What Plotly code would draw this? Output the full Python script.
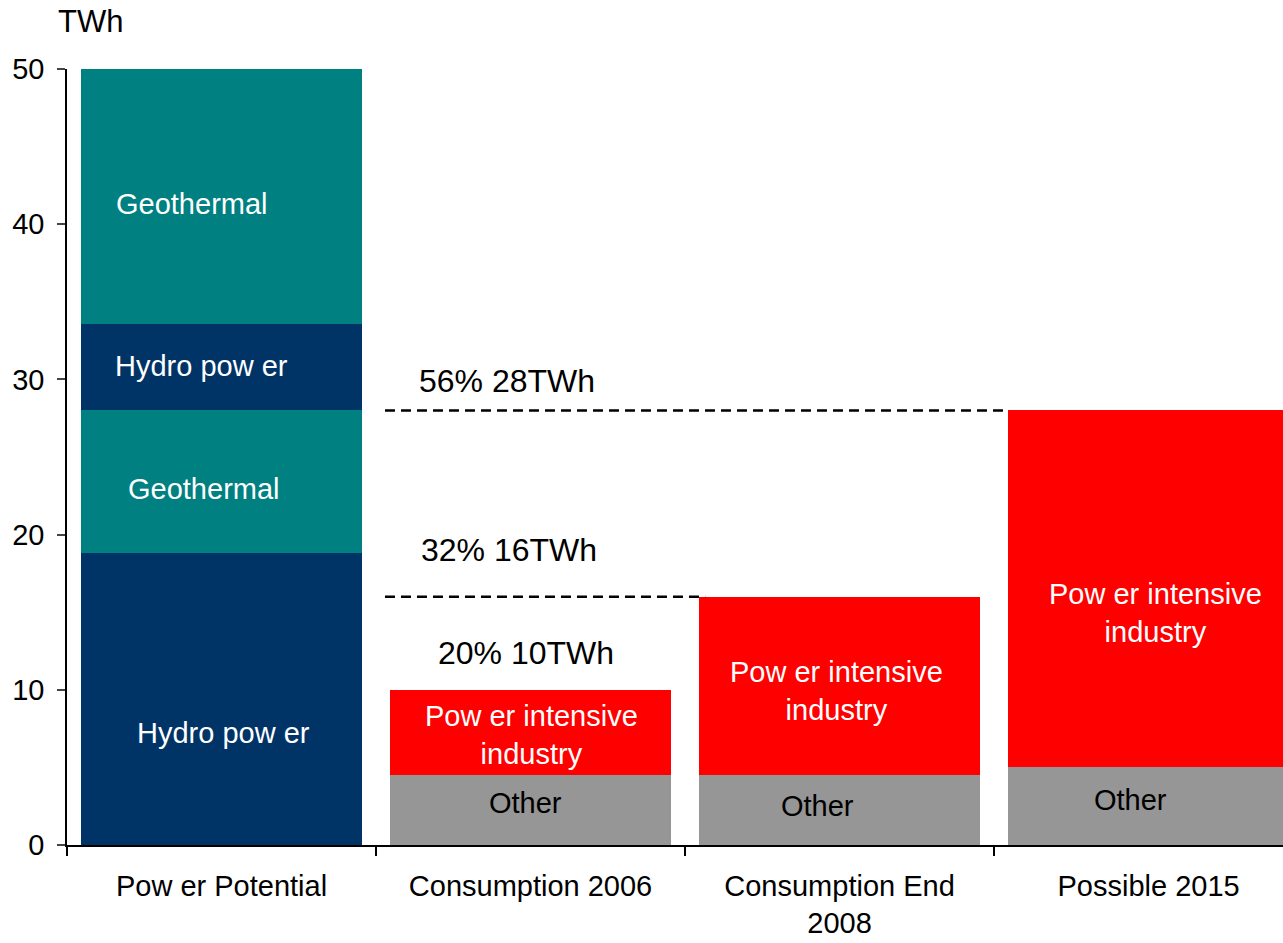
import plotly.graph_objects as go

# Categories and stacked segment values (TWh)
categories = ["Power Potential", "Consumption 2006", "Consumption End 2008", "Possible 2015"]
tick_labels = ["Pow er Potential", "Consumption 2006", "Consumption End<br>2008", "Possible 2015"]

hydro_lower = [18.8, None, None, None]
geothermal_lower = [9.2, None, None, None]
hydro_upper = [5.6, None, None, None]
geothermal_upper = [16.4, None, None, None]
other = [None, 4.5, 4.5, 5.0]
power_intensive = [None, 5.5, 11.5, 23.0]

# Consumption levels marked with dashed reference lines
level_values = [10, 16, 28]
level_shares = [20, 32, 56]

TEAL = "#008080"
NAVY = "#003366"
RED = "#FF0000"
GREY = "#969696"
FONT = "Liberation Sans, Arial, sans-serif"

fig = go.Figure()
series = [
    ("Hydro power", hydro_lower, NAVY),
    ("Geothermal", geothermal_lower, TEAL),
    ("Hydro power ", hydro_upper, NAVY),
    ("Geothermal ", geothermal_upper, TEAL),
    ("Other", other, GREY),
    ("Power intensive industry", power_intensive, RED),
]
for name, vals, color in series:
    fig.add_trace(go.Bar(
        x=categories, y=vals, name=name,
        marker=dict(color=color, line=dict(width=0)),
        hoverinfo="name+y",
    ))

# Segment labels: (category index offset, y, text, colour)
seg_labels = [
    (-0.095, 41.3, "Geothermal", "white"),
    (-0.066, 30.86, "Hydro pow er", "white"),
    (-0.057, 22.94, "Geothermal", "white"),
    (0.008, 7.22, "Hydro pow er", "white"),
    (1.002, 7.12, "Pow er intensive<br>industry", "white"),
    (0.985, 2.71, "Other", "black"),
    (1.989, 9.95, "Pow er intensive<br>industry", "white"),
    (1.927, 2.51, "Other", "black"),
    (3.024, 14.92, "Pow er intensive<br>industry", "white"),
    (2.94, 2.9, "Other", "black"),
]
annotations = []
for xp, yp, txt, col in seg_labels:
    annotations.append(dict(
        x=xp, y=yp, xref="x", yref="y", text=txt, showarrow=False,
        font=dict(family=FONT, size=29, color=col), align="center",
        xanchor="center", yanchor="middle",
    ))

# Percentage / level labels and dashed lines
level_label_pos = {10: (0.985, 12.4), 16: (0.93, 19.0), 28: (0.924, 29.9)}
level_line_span = {16: (0.529, 1.565), 28: (0.529, 2.536)}
shapes = []
for v, s in zip(level_values, level_shares):
    lx, ly = level_label_pos[v]
    annotations.append(dict(
        x=lx, y=ly, xref="x", yref="y", text=f"{s}% {v}TWh", showarrow=False,
        font=dict(family=FONT, size=32, color="black"),
        xanchor="center", yanchor="middle",
    ))
    if v in level_line_span:
        x0, x1 = level_line_span[v]
        shapes.append(dict(
            type="line", xref="x", yref="y", x0=x0, x1=x1, y0=v, y1=v,
            line=dict(color="black", width=2.5, dash="10px,6px"),
        ))

# Unit label above the value axis
annotations.append(dict(
    xref="x domain", yref="y domain",
    x=(56 - 67) / (1283 - 67), y=1 + (69 - 22) / 776,
    text="TWh", showarrow=False, xanchor="left", yanchor="middle",
    font=dict(family=FONT, size=31, color="black"),
))

fig.update_layout(
    width=1283, height=943,
    margin=dict(l=67, r=0, t=69, b=98),
    barmode="stack", bargap=0.088,
    showlegend=False,
    plot_bgcolor="white", paper_bgcolor="white",
    font=dict(family=FONT, size=28, color="black"),
    annotations=annotations, shapes=shapes,
    xaxis=dict(
        type="category", range=[-0.5, 3.435],
        tickmode="array", tickvals=categories, ticktext=tick_labels,
        tickson="boundaries", ticks="outside", ticklen=9, tickwidth=1.5,
        tickcolor="black", showline=True, linecolor="black", linewidth=1.5,
        showgrid=False, zeroline=False, ticklabelstandoff=14,
        tickfont=dict(family=FONT, size=29, color="black"),
    ),
    yaxis=dict(
        range=[0, 50], tickvals=[0, 10, 20, 30, 40, 50],
        ticks="outside", ticklen=8, tickwidth=1.5, tickcolor="#444",
        showline=True, linecolor="black", linewidth=1.5,
        showgrid=False, zeroline=False, ticklabelstandoff=7,
        tickfont=dict(family=FONT, size=29, color="black"),
    ),
)

fig.write_html("out.html")
